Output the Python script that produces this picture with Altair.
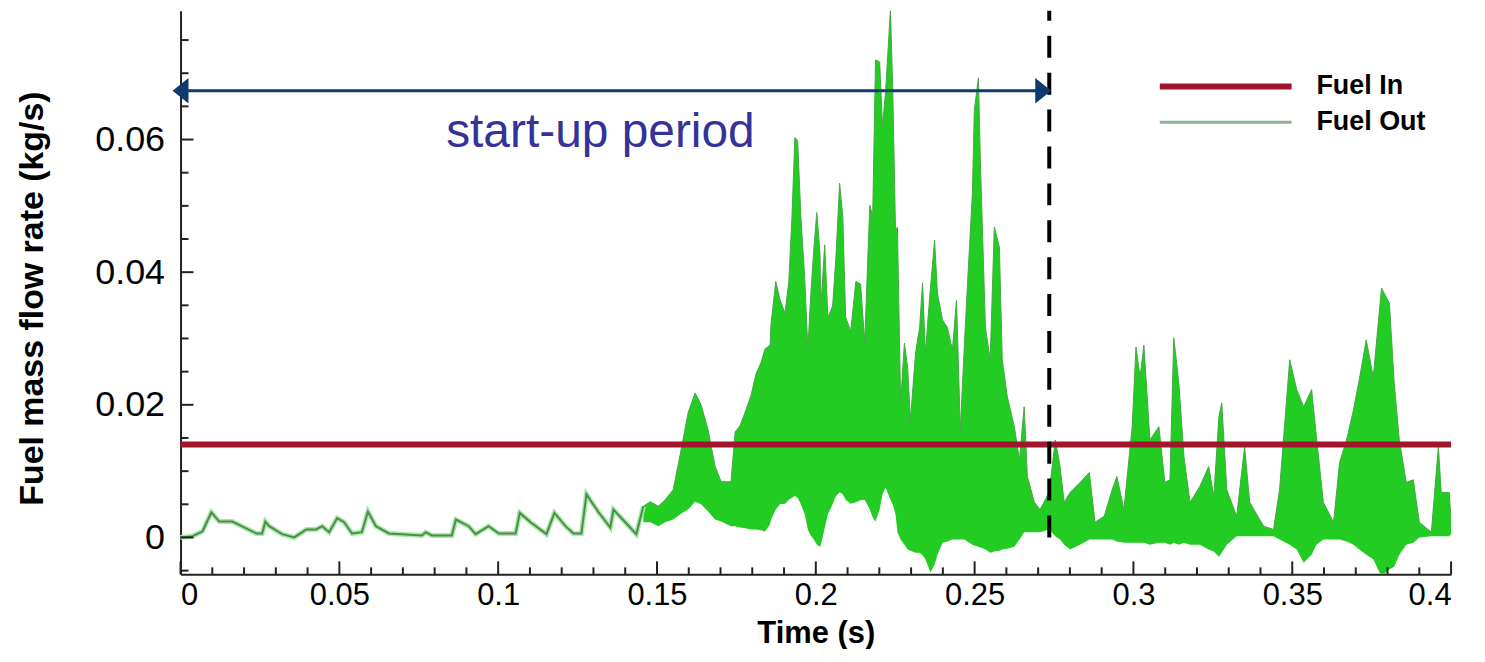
import altair as alt
import pandas as pd

# ---------------- data ----------------
# early, low-amplitude part of "Fuel Out" (thin line)
early_t = [0, 0.0038, 0.0069, 0.0097, 0.0122, 0.0163, 0.0239, 0.0257, 0.0267, 0.0279,
           0.0320, 0.0358, 0.0396, 0.0427, 0.0446, 0.0468, 0.0493, 0.0515, 0.0540, 0.0571,
           0.0590, 0.0615, 0.0656, 0.0760, 0.0772, 0.0791, 0.0854, 0.0867, 0.0907, 0.0929,
           0.0970, 0.1002, 0.1055, 0.1068, 0.1102, 0.1152, 0.1177, 0.1212, 0.1237, 0.1262,
           0.1278, 0.1316, 0.1353, 0.1363, 0.1400, 0.1435, 0.1457]
early_v = [0, 0.0002, 0.0009, 0.0038, 0.0024, 0.0024, 0.0006, 0.0006, 0.0024, 0.0017,
           0.0005, 0.0, 0.0012, 0.0012, 0.0017, 0.0008, 0.0029, 0.0023, 0.0006, 0.0008,
           0.0039, 0.0017, 0.0006, 0.0003, 0.0008, 0.0003, 0.0003, 0.0027, 0.0017, 0.0005,
           0.0017, 0.0006, 0.0006, 0.0037, 0.0023, 0.0005, 0.0037, 0.0017, 0.0006, 0.0006,
           0.0065, 0.0038, 0.0015, 0.0042, 0.0023, 0.0005, 0.0047]

# oscillating part of "Fuel Out": upper and lower envelope
band_t = [0.1457, 0.1479, 0.1504, 0.1526, 0.1551, 0.1573, 0.1598, 0.1620, 0.1639, 0.1661,
          0.1683,
          0.1702, 0.1733, 0.1746, 0.1761, 0.1780, 0.1796, 0.1812, 0.1827, 0.1840, 0.1856,
          0.1859, 0.1874, 0.1887, 0.1903, 0.1915, 0.1925, 0.1934, 0.1943, 0.1953, 0.1965,
          0.1975, 0.1984, 0.1994, 0.2003, 0.2013, 0.2016, 0.2028, 0.2038, 0.2053, 0.2063,
          0.2075, 0.2085, 0.2094, 0.2110, 0.2126, 0.2141, 0.2154, 0.2170, 0.2179, 0.2188,
          0.2201, 0.2210, 0.2220, 0.2235, 0.2242, 0.2251, 0.2257, 0.2267, 0.2279, 0.2289,
          0.2298, 0.2314, 0.2327, 0.2336, 0.2345, 0.2361, 0.2374, 0.2383, 0.2399, 0.2414,
          0.2430, 0.2443, 0.2455, 0.2468, 0.2477, 0.2493, 0.2499, 0.2512, 0.2518, 0.2534,
          0.2549, 0.2562, 0.2578, 0.2587, 0.2603, 0.2625, 0.2641, 0.2656, 0.2666, 0.2688,
          0.2706, 0.2735,
          0.2754, 0.2769, 0.2782, 0.2801, 0.2832, 0.2861, 0.2879, 0.2908, 0.2933, 0.2948,
          0.2970, 0.2996, 0.3008, 0.3021, 0.3033, 0.3052, 0.3080, 0.3099, 0.3115, 0.3127,
          0.3143, 0.3159, 0.3178, 0.3209, 0.3237, 0.3253, 0.3269, 0.3278, 0.3294, 0.3325,
          0.3350, 0.3366, 0.3410, 0.3441, 0.3460, 0.3492, 0.3514, 0.3536, 0.3561, 0.3576,
          0.3598, 0.3630, 0.3649, 0.3671, 0.3693, 0.3711, 0.3733, 0.3755, 0.3781, 0.3806,
          0.3821, 0.3837, 0.3859, 0.3881, 0.3900, 0.3938, 0.3960, 0.3969, 0.3994, 0.4000]
band_hi = [0.0047, 0.0054, 0.0047, 0.0057, 0.0072, 0.0125, 0.0188, 0.0218, 0.0200, 0.0162,
           0.0107,
           0.0084, 0.0084, 0.0159, 0.0168, 0.0192, 0.0214, 0.0247, 0.0263, 0.0284, 0.0290,
           0.0322, 0.0386, 0.0359, 0.0338, 0.0386, 0.0484, 0.0603, 0.0598, 0.0484, 0.0392,
           0.0284, 0.0365, 0.0436, 0.0490, 0.0430, 0.0349, 0.0441, 0.0332, 0.0349, 0.0420,
           0.0534, 0.0484, 0.0332, 0.0311, 0.0386, 0.0382, 0.0295, 0.0501, 0.0484, 0.0720,
           0.0717, 0.0620, 0.0674, 0.0796, 0.0680, 0.0463, 0.0468, 0.0203, 0.0293, 0.0257,
           0.0177, 0.0278, 0.0317, 0.0384, 0.0278, 0.0377, 0.0448, 0.0368, 0.0328, 0.0317,
           0.0283, 0.0358, 0.0162, 0.0293, 0.0377, 0.0519, 0.0644, 0.0693, 0.0569, 0.0317,
           0.0268, 0.0468, 0.0438, 0.0268, 0.0212, 0.0167, 0.0117, 0.0197, 0.0092, 0.0053,
           0.0042, 0.0068,
           0.0147, 0.0107, 0.0053, 0.0068, 0.0083, 0.0098, 0.0023, 0.0032, 0.0072, 0.0092,
           0.0042, 0.0167, 0.0287, 0.0242, 0.0290, 0.0147, 0.0167, 0.0083, 0.0087, 0.0301,
           0.0233, 0.0122, 0.0053, 0.0077, 0.0107, 0.0062, 0.0182, 0.0203, 0.0072, 0.0032,
           0.0137, 0.0053, 0.0017, 0.0012, 0.0072, 0.0268, 0.0223, 0.0197, 0.0223, 0.0152,
           0.0053, 0.0023, 0.0113, 0.0147, 0.0193, 0.0238, 0.0298, 0.0242, 0.0376, 0.0353,
           0.0233, 0.0147, 0.0083, 0.0087, 0.0023, 0.0008, 0.0137, 0.0068, 0.0068, 0.0027]
band_lo = [0.0023, 0.0023, 0.0017, 0.0023, 0.0027, 0.0035, 0.0042, 0.0054, 0.0050, 0.0039,
           0.0027,
           0.0024, 0.0017, 0.0017, 0.0015, 0.0014, 0.0012, 0.0012, 0.0011, 0.0009, 0.0020,
           0.0027, 0.0042, 0.0050, 0.0051, 0.0057, 0.0060, 0.0063, 0.0060, 0.0050, 0.0035,
           0.0012, 0.0003, -0.0003, -0.0011, -0.0014, -0.0011, 0.0014, 0.0035, 0.0050, 0.0062,
           0.0068, 0.0065, 0.0057, 0.0051, 0.0053, 0.0056, 0.0057, 0.0042, 0.0030, 0.0024,
           0.0042, 0.0065, 0.0075, 0.0057, 0.0050, 0.0035, 0.0008, -0.0003, -0.0011, -0.0018,
           -0.0020, -0.0023, -0.0023, -0.0027, -0.0033, -0.0053, -0.0041, -0.0026, -0.0008, -0.0006,
           -0.0003, -0.0003, -0.0003, -0.0003, -0.0006, -0.0011, -0.0012, -0.0014, -0.0015, -0.0018,
           -0.0023, -0.0021, -0.0020, -0.0018, -0.0017, -0.0014, -0.0003, 0.0008, 0.0008, 0.0008,
           0.0008, 0.0012,
           0.0002, -0.0003, -0.0011, -0.0018, -0.0011, -0.0003, -0.0003, -0.0003, -0.0003, -0.0006,
           -0.0008, -0.0008, -0.0008, -0.0008, -0.0008, -0.0011, -0.0008, -0.0008, -0.0011, -0.0008,
           -0.0011, -0.0008, -0.0011, -0.0011, -0.0018, -0.0021, -0.0029, -0.0023, -0.0011, 0.0002,
           0.0002, 0.0002, 0.0002, 0.0002, -0.0003, -0.0011, -0.0018, -0.0038, -0.0026, -0.0011,
           -0.0003, -0.0003, -0.0003, -0.0006, -0.0011, -0.0018, -0.0026, -0.0033, -0.0059, -0.0048,
           -0.0044, -0.0026, -0.0011, -0.0008, 0.0000, 0.0002, 0.0002, 0.0002, 0.0002, 0.0005]

fuel_in_value = 0.014          # constant inlet flow
startup_end = 0.2735           # end of start-up period (s)

series_names = ["Fuel In", "Fuel Out"]
annotation_text = "start-up period"

x_major = [0, 0.05, 0.1, 0.15, 0.2, 0.25, 0.3, 0.35, 0.4]
x_minor = [0.01, 0.02, 0.03, 0.04, 0.06, 0.07, 0.08, 0.09, 0.11, 0.12, 0.13, 0.14,
           0.16, 0.17, 0.18, 0.19, 0.21, 0.22, 0.23, 0.24, 0.26, 0.27, 0.28, 0.29,
           0.31, 0.32, 0.33, 0.34, 0.36, 0.37, 0.38, 0.39]
y_major = [0, 0.02, 0.04, 0.06]
y_minor = [-0.005, 0.005, 0.01, 0.015, 0.025, 0.03, 0.035, 0.045, 0.05, 0.055,
           0.065, 0.07, 0.075]

# ---------------- layout / style ----------------
W, H = 1274, 565
X_DOM = [0, 0.4]
Y_DOM = [-0.00556, 0.0794]
SANS = "Liberation Sans, Arial, sans-serif"
RED = "#a0142c"
GREEN = "#22cc22"
NAVY = "#0d3b6e"

xs = alt.Scale(domain=X_DOM, nice=False, zero=False)
ys = alt.Scale(domain=Y_DOM, nice=False, zero=False)

x_axis = alt.Axis(values=x_major, format="~g", tickSize=0, labelPadding=6,
                  labelFont=SANS, labelFontSize=31, labelColor="black",
                  domainColor="#222", domainWidth=2, grid=False,
                  title="Time (s)", titleFont=SANS, titleFontSize=31,
                  titleFontWeight="bold", titleColor="black",
                  titleX=W / 2, titleY=59, titleAlign="center", titleBaseline="middle")
y_axis = alt.Axis(values=y_major, format="~g", tickSize=0, labelPadding=16,
                  labelFont=SANS, labelFontSize=36, labelColor="black",
                  domainColor="#222", domainWidth=2, grid=False,
                  title="Fuel mass flow rate (kg/s)", titleFont=SANS, titleFontSize=34,
                  titleFontWeight="bold", titleColor="black", titleAngle=270,
                  titleX=-148, titleY=288, titleAlign="center", titleBaseline="middle")

band_df = pd.DataFrame({"t": band_t, "hi": band_hi, "lo": band_lo})
early_df = pd.DataFrame({"t": early_t, "v": early_v})

band = alt.Chart(band_df).mark_area(color=GREEN, opacity=1, clip=True).encode(
    x=alt.X("t:Q", scale=xs, axis=x_axis),
    y=alt.Y("hi:Q", scale=ys, axis=y_axis),
    y2="lo:Q",
)
band_edge = alt.Chart(band_df).mark_line(color="#45a845", strokeWidth=1, clip=True).encode(
    x=alt.X("t:Q", scale=xs), y=alt.Y("hi:Q", scale=ys))
early_halo = alt.Chart(early_df).mark_line(color="#a8e8a8", strokeWidth=5).encode(
    x=alt.X("t:Q", scale=xs), y=alt.Y("v:Q", scale=ys))
early_line = alt.Chart(early_df).mark_line(color="#4b8c4b", strokeWidth=2).encode(
    x=alt.X("t:Q", scale=xs), y=alt.Y("v:Q", scale=ys))

fuel_in = alt.Chart(pd.DataFrame({"v": [fuel_in_value], "a": [X_DOM[0]], "b": [X_DOM[1]]})).mark_rule(
    color=RED, strokeWidth=6).encode(
    x=alt.X("a:Q", scale=xs), x2="b:Q", y=alt.Y("v:Q", scale=ys))

dashed = alt.Chart(pd.DataFrame({"t": [startup_end], "a": [0.0], "b": [Y_DOM[1]]})).mark_rule(
    color="black", strokeWidth=4, strokeDash=[22, 15]).encode(
    x=alt.X("t:Q", scale=xs), y=alt.Y("a:Q", scale=ys), y2="b:Q")

ARROW_Y = 0.06737
ARROW_L, ARROW_R = 0.0, 0.2716
arrow_line = alt.Chart(pd.DataFrame({"a": [ARROW_L], "b": [ARROW_R], "v": [ARROW_Y]})).mark_rule(
    color=NAVY, strokeWidth=3).encode(
    x=alt.X("a:Q", scale=xs), x2="b:Q", y=alt.Y("v:Q", scale=ys))
head_l = alt.Chart(pd.DataFrame({"t": [ARROW_L], "v": [ARROW_Y]})).mark_point(
    shape="M -1 0 L 1 -1.6 L 1 1.6 Z", filled=True, size=256, color=NAVY, opacity=1).encode(
    x=alt.X("t:Q", scale=xs), y=alt.Y("v:Q", scale=ys))
head_r = alt.Chart(pd.DataFrame({"t": [ARROW_R], "v": [ARROW_Y]})).mark_point(
    shape="M 1 0 L -1 -1.6 L -1 1.6 Z", filled=True, size=256, color=NAVY, opacity=1).encode(
    x=alt.X("t:Q", scale=xs), y=alt.Y("v:Q", scale=ys))

label = alt.Chart(pd.DataFrame({"t": [0.1322], "v": [0.0588], "s": [annotation_text]})).mark_text(
    font=SANS, fontSize=48, color="#333399", align="center", baseline="alphabetic").encode(
    x=alt.X("t:Q", scale=xs), y=alt.Y("v:Q", scale=ys), text="s:N")

# legend (drawn by hand, top right)
leg_df = pd.DataFrame({"name": series_names, "a": [0.3083, 0.3083], "b": [0.3498, 0.3498],
                       "v": [0.0680, 0.0626], "tx": [0.3576, 0.3576]})
leg_in = alt.Chart(leg_df.iloc[[0]]).mark_rule(color=RED, strokeWidth=6).encode(
    x=alt.X("a:Q", scale=xs), x2="b:Q", y=alt.Y("v:Q", scale=ys))
leg_out = alt.Chart(leg_df.iloc[[1]]).mark_rule(color="#8fb08f", strokeWidth=3).encode(
    x=alt.X("a:Q", scale=xs), x2="b:Q", y=alt.Y("v:Q", scale=ys))
leg_txt = alt.Chart(leg_df).mark_text(font=SANS, fontSize=27, fontWeight="bold", color="black",
                                      align="left", baseline="middle").encode(
    x=alt.X("tx:Q", scale=xs), y=alt.Y("v:Q", scale=ys), text="name:N")

# inward tick marks
def xticks(vals, length):
    return alt.Chart(pd.DataFrame({"t": vals})).mark_rule(color="#222", strokeWidth=2).encode(
        x=alt.X("t:Q", scale=xs), y=alt.value(H), y2=alt.value(H - length))

def yticks(vals, length):
    return alt.Chart(pd.DataFrame({"v": vals})).mark_rule(color="#222", strokeWidth=2).encode(
        y=alt.Y("v:Q", scale=ys), x=alt.value(0), x2=alt.value(length))

chart = alt.layer(
    band, band_edge, early_halo, early_line, fuel_in, dashed,
    arrow_line, head_l, head_r, label, leg_in, leg_out, leg_txt,
    xticks(x_major, 13), xticks(x_minor, 7), yticks(y_major, 13), yticks(y_minor, 8),
).properties(
    width=W, height=H,
    autosize=alt.AutoSizeParams(type="none"),
    padding={"left": 173, "top": 2, "right": 26, "bottom": 74},
    background="white",
).configure_view(stroke=None)

chart.save("out.html", embed_options={"renderer": "svg", "actions": False})
